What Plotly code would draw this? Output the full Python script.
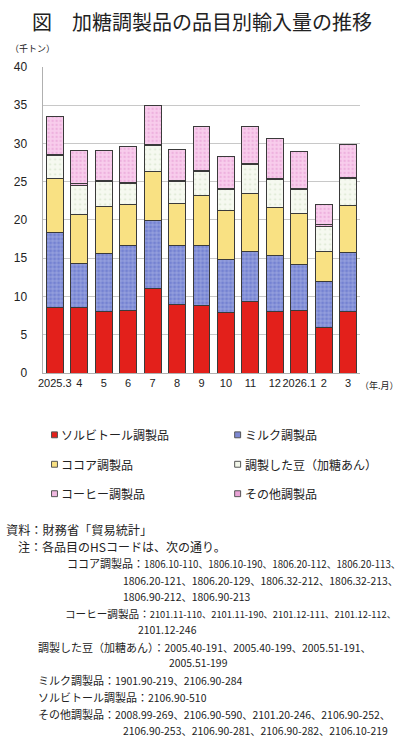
import plotly.graph_objects as go

W, H = 400, 747

months = ["2025.3", "4", "5", "6", "7", "8", "9", "10", "11", "12", "2026.1", "2", "3"]
sorbitol = [8.5, 8.5, 8.05, 8.15, 11.1, 8.9, 8.8, 7.85, 9.3, 8.05, 8.15, 6.0, 8.05]
milk = [9.8, 5.8, 7.55, 8.45, 8.8, 7.8, 7.8, 6.95, 6.6, 7.25, 6.05, 6.0, 7.65]
cocoa = [7.15, 6.35, 6.1, 5.4, 6.4, 5.5, 6.55, 6.4, 7.6, 6.3, 6.6, 3.9, 6.25]
beans = [2.95, 3.9, 3.3, 2.8, 3.4, 2.85, 3.15, 2.8, 3.7, 3.7, 3.2, 3.3, 3.45]
coffee = [0.15, 0.2, 0.15, 0.15, 0.15, 0.15, 0.15, 0.15, 0.15, 0.15, 0.15, 0.15, 0.15]
other = [4.9, 4.35, 3.95, 4.7, 5.15, 4.05, 5.75, 4.15, 4.85, 5.25, 4.85, 2.65, 4.35]

names = ["ソルビトール調製品", "ミルク調製品", "ココア調製品", "調製した豆（加糖あん）", "コーヒー調製品", "その他調製品"]
series = [sorbitol, milk, cocoa, beans, coffee, other]
y_ticks = [0, 5, 10, 15, 20, 25, 30, 35, 40]

title = "図　加糖調製品の品目別輸入量の推移"
y_unit = "（千トン）"
x_unit = "（年.月）"
# (x px, y px, label, label size, body, body size)
notes = [
    (0, 533, "資料：財務省「貿易統計」", 12.2, "", 12.2),
    (12, 550, "注：各品目のHSコードは、次の通り。", 12, "", 12),
    (62, 567, "ココア調製品：", 11, "1806.10-110、1806.10-190、1806.20-112、1806.20-113、", 9.7),
    (118, 584, "", 10.5, "1806.20-121、1806.20-129、1806.32-212、1806.32-213、", 10.4),
    (118, 601, "", 10.5, "1806.90-212、1806.90-213", 10.4),
    (60, 618, "コーヒー調製品：", 10.6, "2101.11-110、2101.11-190、2101.12-111、2101.12-112、", 9.3),
    (133, 634, "", 10.5, "2101.12-246", 10.4),
    (32, 652, "調製した豆（加糖あん）：", 11, "2005.40-191、2005.40-199、2005.51-191、", 10.4),
    (165, 668, "", 10.5, "2005.51-199", 10.4),
    (32, 686, "ミルク調製品：", 11, "1901.90-219、2106.90-284", 10.4),
    (32, 703, "ソルビトール調製品：", 11, "2106.90-510", 10.4),
    (32, 720, "その他調製品：", 11, "2008.99-269、2106.90-590、2101.20-246、2106.90-252、", 10.4),
    (118, 737, "", 10.5, "2106.90-253、2106.90-281、2106.90-282、2106.10-219", 10.4),
]

JP = "Noto Sans CJK JP, sans-serif"
LAT = "Liberation Sans, Arial, sans-serif"

styles = [
    dict(color="#e3201b"),
    dict(color="#7d88d2", pattern=dict(shape="+", bgcolor="#7482d2", fgcolor="#e6e9fa", size=4, solidity=0.3)),
    dict(color="#f9e183"),
    dict(color="#f3f7ea", pattern=dict(shape=".", bgcolor="#f6f9f0", fgcolor="#bcd4ae", size=5, solidity=0.12)),
    dict(color="#f5c3e8", pattern=dict(shape="x", bgcolor="#f5c3e8", fgcolor="#d982c4", size=4, solidity=0.3)),
    dict(color="#f6c7ea", pattern=dict(shape=".", bgcolor="#f8cdec", fgcolor="#e493d0", size=4, solidity=0.3)),
]
legend_colors = ["#e3201b", "#7d88d2", "#f9e183", "#f3f7ea", "#f0b8e0", "#e9a3d6"]

fig = go.Figure()
for name, vals, st in zip(names, series, styles):
    marker = dict(st)
    marker["line"] = dict(color="#3a3a3a", width=1)
    fig.add_trace(go.Bar(x=months, y=vals, name=name, marker=marker, showlegend=False))

def px(x):
    return x / W

def py(y):
    return 1 - y / H

annotations = []
annotations.append(dict(x=0.5, y=py(15), xref="paper", yref="paper", text=title, showarrow=False,
                        xanchor="center", yanchor="middle", font=dict(family=JP, size=20, color="#222")))
annotations.append(dict(x=px(4), y=py(42), xref="paper", yref="paper", text=y_unit, showarrow=False,
                        xanchor="left", yanchor="middle", font=dict(family=JP, size=9, color="#222")))
annotations.append(dict(x=px(358), y=py(386), xref="paper", yref="paper", text=x_unit, showarrow=False,
                        xanchor="left", yanchor="middle", font=dict(family=JP, size=9, color="#222")))

shapes = []
leg_pos = [(48, 436), (233, 436), (48, 466), (233, 466), (48, 496), (233, 496)]
for i, (lx, ly) in enumerate(leg_pos):
    shapes.append(dict(type="rect", xref="paper", yref="paper",
                       x0=px(lx), x1=px(lx + 6), y0=py(ly + 3), y1=py(ly - 3),
                       fillcolor=legend_colors[i], line=dict(color="#555", width=1)))
    annotations.append(dict(x=px(lx + 8), y=py(ly), xref="paper", yref="paper", text=names[i],
                            showarrow=False, xanchor="left", yanchor="middle",
                            font=dict(family=JP, size=12, color="#222")))

for nx, ny, label, lsize, body, bsize in notes:
    text = ""
    if label:
        text += f'<span style="font-size:{lsize}px">{label}</span>'
    text += body
    annotations.append(dict(x=px(nx), y=py(ny), xref="paper", yref="paper", text=text, showarrow=False,
                            xanchor="left", yanchor="middle", font=dict(family=JP, size=bsize, color="#222")))

fig.update_layout(
    width=W, height=H,
    margin=dict(l=0, r=0, t=0, b=0),
    paper_bgcolor="white", plot_bgcolor="white",
    barmode="stack", bargap=0.31,
    xaxis=dict(domain=[39 / W, 360 / W], type="category", showgrid=False, showline=True,
               linecolor="#b0b0b0", linewidth=1, ticks="", tickangle=0,
               tickfont=dict(family=LAT, size=11, color="#222"), fixedrange=True),
    yaxis=dict(domain=[1 - 373 / H, 1 - 61 / H], range=[0, 40], tickvals=y_ticks, showgrid=True,
               gridcolor="#c8c8c8", gridwidth=1, showline=True, linecolor="#b0b0b0", linewidth=1,
               zeroline=False, ticks="", ticklabelstandoff=12,
               tickfont=dict(family=LAT, size=12, color="#222")),
    annotations=annotations,
    shapes=shapes,
)

fig.write_html("out.html")
